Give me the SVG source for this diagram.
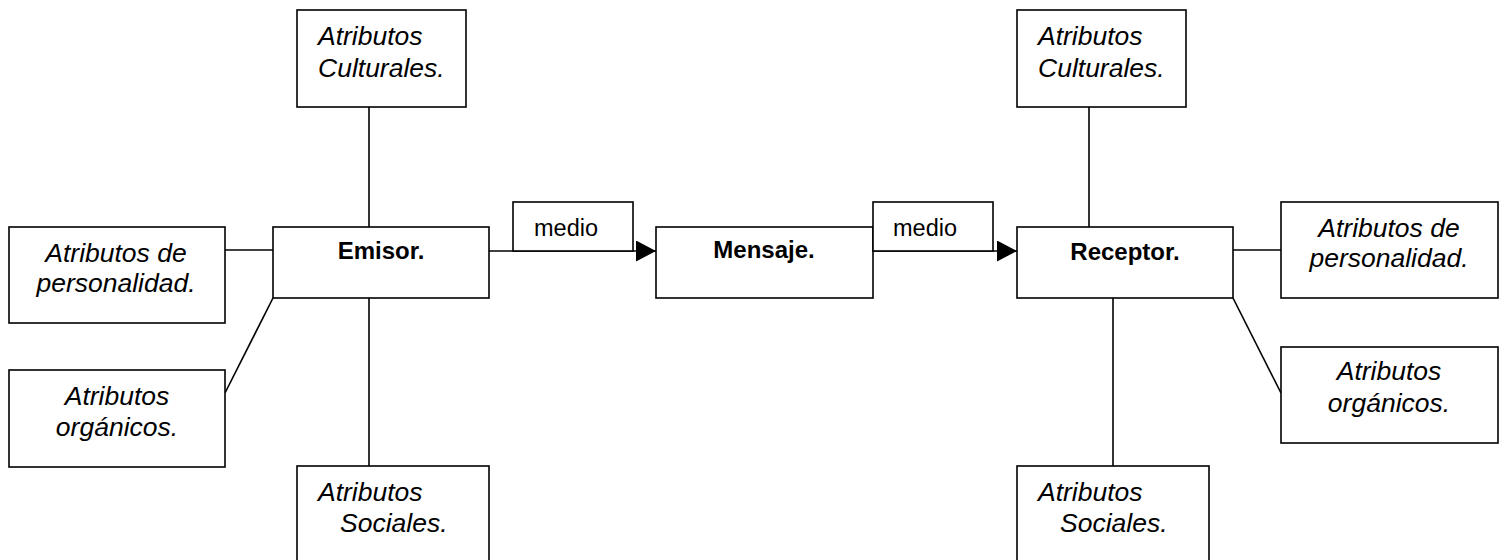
<svg xmlns="http://www.w3.org/2000/svg" width="1504" height="560" viewBox="0 0 1504 560">
<style>
.box{fill:#fff;stroke:#000;stroke-width:1.6}
.ln{stroke:#000;stroke-width:1.6;fill:none}
.it{font-family:"Liberation Sans",Arial,sans-serif;font-style:italic;font-size:26.5px;fill:#000}
.bd{font-family:"Liberation Sans",Arial,sans-serif;font-weight:bold;font-size:24px;fill:#000;text-anchor:middle}
.rg{font-family:"Liberation Sans",Arial,sans-serif;font-size:23.5px;fill:#000}
.c{text-anchor:middle}
</style>
<defs>
<marker id="arr" markerUnits="userSpaceOnUse" markerWidth="22" markerHeight="22" refX="20" refY="10.5" orient="auto">
<path d="M0,0 L20,10.5 L0,21 Z" fill="#000"/>
</marker>
</defs>
<rect width="1504" height="560" fill="#fff"/>
<g id="connectors">
<line class="ln" x1="369" y1="107" x2="369" y2="227"/>
<line class="ln" x1="225" y1="250" x2="273" y2="250"/>
<line class="ln" x1="273" y1="298" x2="225" y2="393"/>
<line class="ln" x1="369" y1="298" x2="369" y2="466"/>
<line class="ln" x1="1089" y1="107" x2="1089" y2="227"/>
<line class="ln" x1="1233" y1="250" x2="1281" y2="250"/>
<line class="ln" x1="1233" y1="298" x2="1281" y2="393"/>
<line class="ln" x1="1113" y1="298" x2="1113" y2="466"/>
<line class="ln" x1="489" y1="251" x2="656" y2="251" marker-end="url(#arr)"/>
<line class="ln" x1="873" y1="251" x2="1017" y2="251" marker-end="url(#arr)"/>
</g>
<g id="emisor-culturales"><rect class="box" x="297" y="10" width="169" height="97"/>
<text class="it" x="318" y="45">Atributos</text><text class="it" x="318" y="77">Culturales.</text></g>
<g id="emisor-personalidad"><rect class="box" x="9" y="227" width="216" height="96"/>
<text class="it c" x="116" y="262">Atributos de</text><text class="it c" x="116" y="292">personalidad.</text></g>
<g id="emisor"><rect class="box" x="273" y="227" width="216" height="71"/>
<text class="bd" x="381" y="259">Emisor.</text></g>
<g id="emisor-organicos"><rect class="box" x="9" y="370" width="216" height="97"/>
<text class="it c" x="117" y="405">Atributos</text><text class="it c" x="117" y="436">orgánicos.</text></g>
<g id="emisor-sociales"><rect class="box" x="297" y="466" width="192" height="100"/>
<text class="it" x="318" y="501">Atributos</text><text class="it" x="340" y="532">Sociales.</text></g>
<g id="medio1"><rect class="box" x="513" y="202" width="120" height="49"/>
<text class="rg" x="534" y="236">medio</text></g>
<g id="mensaje"><rect class="box" x="656" y="227" width="217" height="71"/>
<text class="bd" x="764" y="258">Mensaje.</text></g>
<g id="medio2"><rect class="box" x="873" y="202" width="120" height="49"/>
<text class="rg" x="893" y="236">medio</text></g>
<g id="receptor-culturales"><rect class="box" x="1017" y="10" width="169" height="97"/>
<text class="it" x="1038" y="45">Atributos</text><text class="it" x="1038" y="77">Culturales.</text></g>
<g id="receptor"><rect class="box" x="1017" y="227" width="216" height="71"/>
<text class="bd" x="1125" y="260">Receptor.</text></g>
<g id="receptor-personalidad"><rect class="box" x="1281" y="202" width="217" height="96"/>
<text class="it c" x="1389" y="237">Atributos de</text><text class="it c" x="1389" y="267">personalidad.</text></g>
<g id="receptor-organicos"><rect class="box" x="1281" y="347" width="217" height="96"/>
<text class="it c" x="1389" y="380">Atributos</text><text class="it c" x="1389" y="412">orgánicos.</text></g>
<g id="receptor-sociales"><rect class="box" x="1017" y="466" width="192" height="100"/>
<text class="it" x="1038" y="501">Atributos</text><text class="it" x="1060" y="532">Sociales.</text></g>
</svg>
